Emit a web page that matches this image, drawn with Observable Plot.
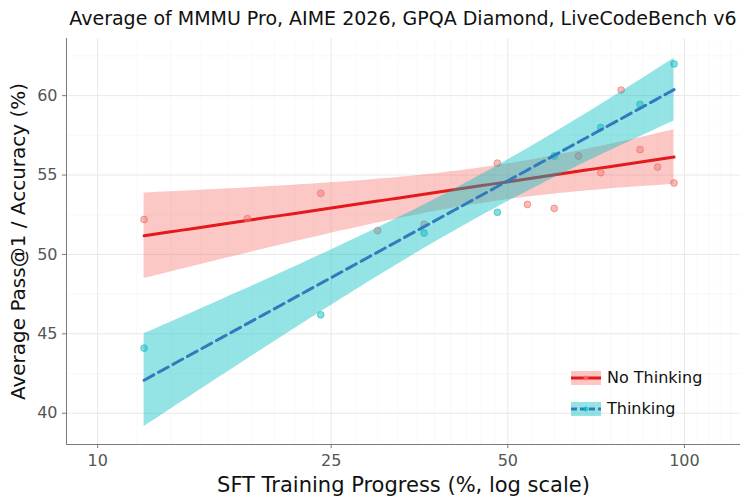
<!DOCTYPE html>
<html>
<head>
<meta charset="utf-8">
<script src="https://cdn.jsdelivr.net/npm/d3@7"></script>
<script src="https://cdn.jsdelivr.net/npm/@observablehq/plot@0.6"></script>
<style>
  html, body { margin: 0; padding: 0; background: #fff; }
  body { width: 742px; height: 498px; position: relative; overflow: hidden; font-family: "DejaVu Sans", sans-serif; }
  #title { position: absolute; left: 66px; width: 674px; top: 7px; text-align: center; font-size: 19px; color: #111; white-space: nowrap; }
  #chart { position: absolute; left: 0; top: 0; }
  #legend { position: absolute; left: 571px; top: 362px; font-size: 16px; color: #111; }
  .row { display: flex; align-items: center; height: 31px; }
  .row svg { margin-right: 6px; }
</style>
</head>
<body>
<div id="chart"></div>
<div id="title">Average of MMMU Pro, AIME 2026, GPQA Diamond, LiveCodeBench v6</div>
<div id="legend"></div>
<script>
// ---- data ----
const noThinkingProgress = [12, 18, 24, 30, 36, 48, 54, 60, 66, 72, 78, 84, 90, 96];
const noThinkingScore    = [52.2, 52.25, 53.85, 51.5, 51.9, 55.75, 53.15, 52.9, 56.2, 55.15, 60.35, 56.6, 55.5, 54.5];
const thinkingProgress   = [12, 24, 36, 48, 60, 72, 84, 96];
const thinkingScore      = [44.1, 46.2, 51.35, 52.65, 56.2, 58.0, 59.45, 62.0];
const seriesNames = ["No Thinking", "Thinking"];
const xTicks = [10, 25, 50, 100];
const yTicks = [40, 45, 50, 55, 60];

// ---- statistics: OLS on log10(x) with 95% confidence band ----
function tQuantile975(nu) {
  const z = 1.959964;
  const z3 = z ** 3, z5 = z ** 5, z7 = z ** 7, z9 = z ** 9;
  return z + (z3 + z) / (4 * nu)
    + (5 * z5 + 16 * z3 + 3 * z) / (96 * nu ** 2)
    + (3 * z7 + 19 * z5 + 17 * z3 - 15 * z) / (384 * nu ** 3)
    + (79 * z9 + 776 * z7 + 1482 * z5 - 1920 * z3 - 945 * z) / (92160 * nu ** 4);
}
function fit(xs, ys, name) {
  const lx = xs.map(Math.log10);
  const n = lx.length;
  const mx = d3.mean(lx), my = d3.mean(ys);
  let sxx = 0, sxy = 0;
  lx.forEach((v, i) => { sxx += (v - mx) ** 2; sxy += (v - mx) * (ys[i] - my); });
  const b = sxy / sxx, a = my - b * mx;
  let sse = 0;
  lx.forEach((v, i) => { sse += (ys[i] - (a + b * v)) ** 2; });
  const s = Math.sqrt(sse / (n - 2));
  const t = tQuantile975(n - 2);
  const lo = d3.min(lx), hi = d3.max(lx);
  const out = [];
  const N = 80;
  for (let k = 0; k <= N; k++) {
    const v = lo + (hi - lo) * k / N;
    const yhat = a + b * v;
    const se = s * Math.sqrt(1 / n + (v - mx) ** 2 / sxx);
    out.push({series: name, x: 10 ** v, y: yhat, lo: yhat - t * se, hi: yhat + t * se});
  }
  return out;
}
const pointsNo = noThinkingProgress.map((x, i) => ({series: seriesNames[0], x, y: noThinkingScore[i]}));
const pointsTh = thinkingProgress.map((x, i) => ({series: seriesNames[1], x, y: thinkingScore[i]}));
const fitNo = fit(noThinkingProgress, noThinkingScore, seriesNames[0]);
const fitTh = fit(thinkingProgress, thinkingScore, seriesNames[1]);

const xDomain = [8.85, 124.6];
const yDomain = [38.03, 63.6];

// minor grid (very faint), linear subdivisions between major ticks
const xMinor = [];
for (let v = 10 + 5/3; v < 25 - 0.01; v += 5/3) xMinor.push(v);
for (let v = 27.5; v < 50 - 0.01; v += 2.5) xMinor.push(v);
for (let v = 55; v < 100 - 0.01; v += 5) xMinor.push(v);
for (let v = 105; v < 124; v += 5) xMinor.push(v);
const yMinor = [42.5, 47.5, 52.5, 57.5, 62.5];

const RED_FILL = "#F8766D", CYAN_FILL = "#00BFC4";
const RED_LINE = "#e3191c", BLUE_LINE = "#2f7bbb";

const chart = Plot.plot({
  width: 742,
  height: 498,
  marginLeft: 66,
  marginRight: 2,
  marginTop: 38,
  marginBottom: 54,
  style: {fontFamily: "DejaVu Sans, sans-serif", background: "white"},
  x: {type: "log", domain: xDomain, range: [66, 740]},
  y: {domain: yDomain, range: [444, 38]},
  marks: [
    Plot.ruleX(xMinor, {stroke: "#f7f7f7", strokeWidth: 0.8}),
    Plot.ruleY(yMinor, {stroke: "#f6f6f6", strokeWidth: 0.8}),
    Plot.ruleX(xTicks, {stroke: "#e8e8e8", strokeWidth: 1}),
    Plot.ruleY(yTicks, {stroke: "#e8e8e8", strokeWidth: 1}),
    // No Thinking group
    Plot.areaY(fitNo, {x: "x", y1: "lo", y2: "hi", fill: RED_FILL, fillOpacity: 0.4}),
    Plot.line(fitNo, {x: "x", y: "y", stroke: RED_LINE, strokeWidth: 3}),
    Plot.dot(pointsNo, {x: "x", y: "y", r: 3.4, fill: RED_FILL, fillOpacity: 0.5, stroke: "#e0605a", strokeOpacity: 0.5, strokeWidth: 1}),
    // Thinking group
    Plot.areaY(fitTh, {x: "x", y1: "lo", y2: "hi", fill: CYAN_FILL, fillOpacity: 0.42}),
    Plot.dot(pointsTh, {x: "x", y: "y", r: 3.4, fill: CYAN_FILL, fillOpacity: 0.5, stroke: "#1aa9ae", strokeOpacity: 0.5, strokeWidth: 1}),
    Plot.line(fitTh, {x: "x", y: "y", stroke: BLUE_LINE, strokeWidth: 3, strokeDasharray: "11,5.5"}),
    // axes
    Plot.ruleX([xDomain[0]], {stroke: "#7a7a7a", strokeWidth: 1}),
    Plot.ruleY([yDomain[0]], {stroke: "#7a7a7a", strokeWidth: 1}),
    Plot.axisX({ticks: xTicks, tickFormat: d => String(d), tickSize: 4, tickPadding: 6, fontSize: 16, color: "#555", stroke: "#7a7a7a", label: null}),
    Plot.axisY({ticks: yTicks, tickFormat: d => String(d), tickSize: 4, tickPadding: 5, fontSize: 16, color: "#555", stroke: "#7a7a7a", label: null}),
    Plot.text(["SFT Training Progress (%, log scale)"], {frameAnchor: "bottom", dy: 47, fontSize: 21, fill: "#111"}),
    Plot.text(["Average Pass@1 / Accuracy (%)"], {frameAnchor: "left", textAnchor: "middle", dx: -48, rotate: -90, fontSize: 20, fill: "#111"})
  ]
});
document.getElementById("chart").appendChild(chart);

// legend
const legend = document.getElementById("legend");
const legendStyles = [
  {band: RED_FILL, line: RED_LINE, dot: RED_FILL, dash: null},
  {band: CYAN_FILL, line: BLUE_LINE, dot: CYAN_FILL, dash: "6,3"}
];
seriesNames.forEach((name, i) => {
  const st = legendStyles[i];
  const row = document.createElement("div");
  row.className = "row";
  row.innerHTML = `<svg width="30" height="16">
    <rect x="0" y="1" width="30" height="14" fill="${st.band}" fill-opacity="0.42"></rect>
    <line x1="0" x2="30" y1="8" y2="8" stroke="${st.line}" stroke-width="3" ${st.dash ? `stroke-dasharray="${st.dash}"` : ""}></line>
    <circle cx="15" cy="8" r="2.5" fill="${st.dot}" fill-opacity="0.7"></circle>
  </svg><span>${name}</span>`;
  legend.appendChild(row);
});
</script>
</body>
</html>
